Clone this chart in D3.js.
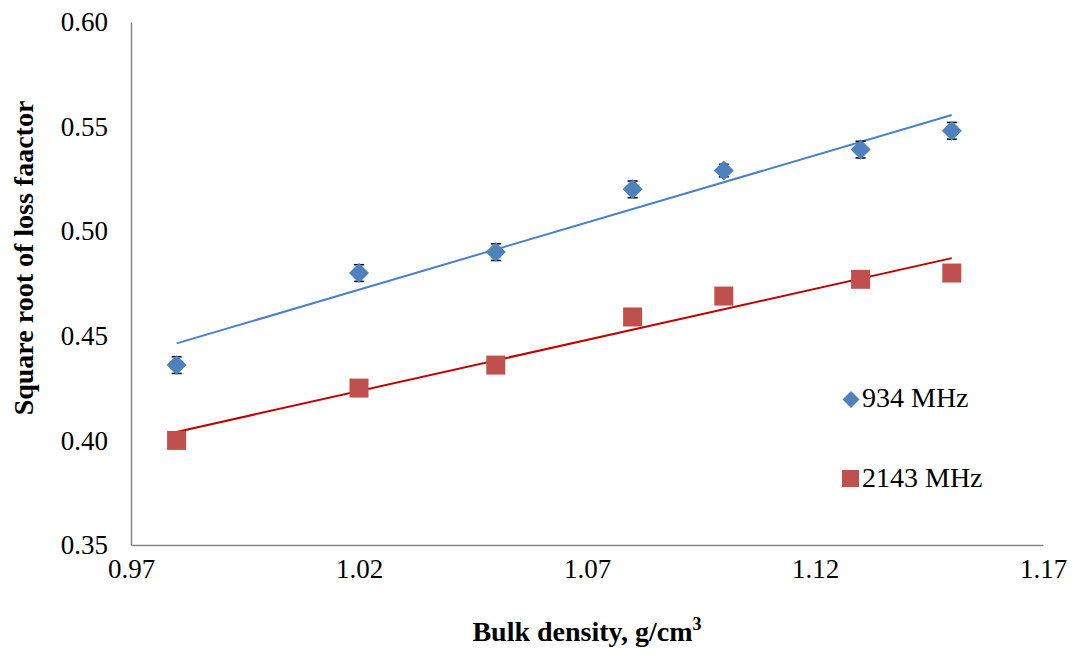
<!DOCTYPE html>
<html><head><meta charset="utf-8">
<script src="https://cdn.jsdelivr.net/npm/d3@7"></script>
<style>body{margin:0;background:#fff}svg{display:block}text{font-family:"Liberation Serif","Times New Roman",serif}</style>
</head><body><svg id="c" width="1085" height="664"></svg>
<script>
const density = [0.98, 1.02, 1.05, 1.08, 1.10, 1.13, 1.15];
const mhz934 = [0.436, 0.480, 0.490, 0.520, 0.529, 0.539, 0.548];
const mhz934Err = [0.004, 0.004, 0.004, 0.004, 0.003, 0.004, 0.004];
const mhz2143 = [0.400, 0.425, 0.436, 0.459, 0.469, 0.477, 0.480];
const xTicks = [0.97, 1.02, 1.07, 1.12, 1.17];
const yTicks = [0.35, 0.40, 0.45, 0.50, 0.55, 0.60];
const seriesNames = ["934 MHz", "2143 MHz"];

const svg = d3.select("#c");
const x = d3.scaleLinear().domain([0.97, 1.17]).range([131, 1043]);
const y = d3.scaleLinear().domain([0.35, 0.60]).range([545, 22]);

// axes
const xa = svg.append("g").attr("transform", "translate(0,545)")
  .call(d3.axisBottom(x).tickValues(xTicks).tickFormat(d3.format(".2f")).tickSize(0).tickPadding(14));
const ya = svg.append("g").attr("transform", "translate(131,0)")
  .call(d3.axisLeft(y).tickValues(yTicks).tickFormat(d3.format(".2f")).tickSize(0).tickPadding(23));
[xa, ya].forEach(a => {
  a.attr("font-family", "Liberation Serif").attr("font-size", 27);
  a.select(".domain").attr("stroke", "#868686").attr("stroke-width", 1.5);
  a.selectAll("text").attr("fill", "#000");
});

function fit(xs, ys) {
  const mx = d3.mean(xs), my = d3.mean(ys);
  const sxy = d3.sum(xs, (v, i) => (v - mx) * (ys[i] - my));
  const sxx = d3.sum(xs, v => (v - mx) * (v - mx));
  const b = sxy / sxx; return v => my + b * (v - mx);
}
const line = d3.line().x(d => x(d[0])).y(d => y(d[1]));
const ext = d3.extent(density);
const f1 = fit(density, mhz934), f2 = fit(density, mhz2143);
svg.append("path").attr("d", line(ext.map(v => [v, f1(v)]))).attr("stroke", "#4A7FD0").attr("stroke-width", 2).attr("fill", "none");
svg.append("path").attr("d", line(ext.map(v => [v, f2(v)]))).attr("stroke", "#C00000").attr("stroke-width", 2).attr("fill", "none");

// red squares
svg.selectAll(".sq").data(density).enter().append("rect")
  .attr("x", (d) => x(d) - 9.5).attr("y", (d, i) => y(mhz2143[i]) - 9.5)
  .attr("width", 19).attr("height", 19).attr("fill", "#C0504D");

// error bars for blue
const eb = svg.append("g").attr("stroke", "#000").attr("stroke-width", 1.5);
density.forEach((d, i) => {
  const cx = x(d), t = y(mhz934[i] + mhz934Err[i]), b = y(mhz934[i] - mhz934Err[i]);
  eb.append("line").attr("x1", cx).attr("x2", cx).attr("y1", t).attr("y2", b);
  eb.append("line").attr("x1", cx - 5).attr("x2", cx + 5).attr("y1", t).attr("y2", t);
  eb.append("line").attr("x1", cx - 5).attr("x2", cx + 5).attr("y1", b).attr("y2", b);
});
const diamond = "M0,-10L10,0L0,10L-10,0Z";
svg.selectAll(".dm").data(density).enter().append("path")
  .attr("d", diamond).attr("transform", (d, i) => `translate(${x(d)},${y(mhz934[i])})`)
  .attr("fill", "#4F81BD");

// legend
svg.append("path").attr("d", "M0,-8.5L8.5,0L0,8.5L-8.5,0Z").attr("transform", "translate(851,399.5)").attr("fill", "#4F81BD");
svg.append("text").attr("x", 862).attr("y", 407).attr("font-size", 28).text(seriesNames[0]);
svg.append("rect").attr("x", 842).attr("y", 470).attr("width", 17).attr("height", 17).attr("fill", "#C0504D");
svg.append("text").attr("x", 862).attr("y", 487).attr("font-size", 28).text(seriesNames[1]);

// titles
const xt = svg.append("text").attr("x", 587).attr("y", 641).attr("text-anchor", "middle")
  .attr("font-size", 28).attr("font-weight", "bold");
xt.append("tspan").text("Bulk density, g/cm");
xt.append("tspan").attr("font-size", 18).attr("dy", -11).text("3");
svg.append("text").attr("transform", "translate(33,258) rotate(-90)").attr("text-anchor", "middle")
  .attr("font-size", 28).attr("font-weight", "bold").text("Square root of loss faactor");
</script></body></html>
